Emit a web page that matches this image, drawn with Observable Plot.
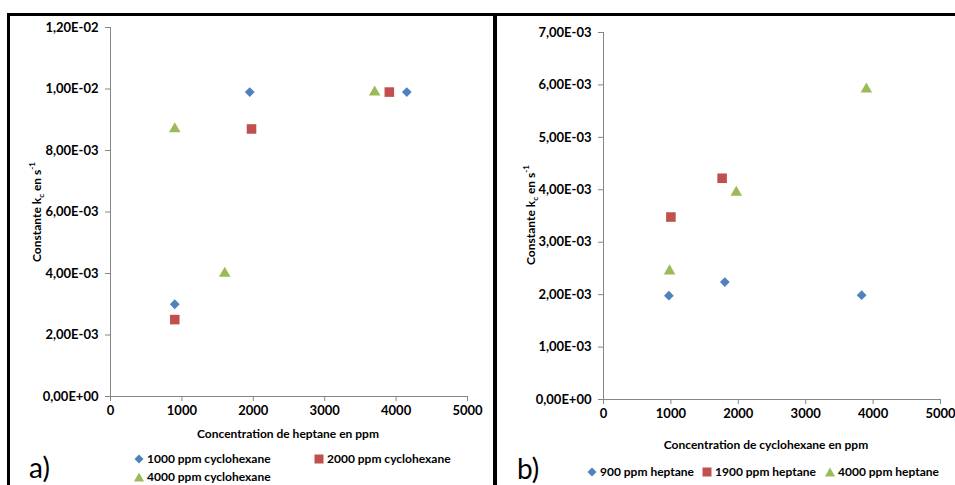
<!DOCTYPE html>
<html>
<head>
<meta charset="utf-8">
<script src="https://cdn.jsdelivr.net/npm/d3@7"></script>
<script src="https://cdn.jsdelivr.net/npm/@observablehq/plot@0.6"></script>
<style>
  html, body { margin: 0; padding: 0; background: white; }
  #root { position: relative; width: 955px; height: 485px; overflow: hidden; background: white;
          font-family: Lato, "Open Sans", sans-serif; color: black; }
  .line { position: absolute; background: black; z-index: 5; }
  .t { position: absolute; font-weight: bold; font-size: 12px; white-space: nowrap; line-height: 1; }
  .ctr { transform: translate(-50%, -50%); }
  .ylab { transform: translate(-50%, -50%) rotate(-90deg); }
  .big { position: absolute; font-size: 28px; font-weight: normal; line-height: 1; }
  .leg { position: absolute; font-weight: bold; font-size: 12px; white-space: nowrap; line-height: 1;
         display: flex; align-items: center; transform: translateY(-50%); }
  .leg svg { margin-right: 3px; }
  sub, sup { font-size: 8px; }
  sub { vertical-align: -3px; }
  sup { vertical-align: 6px; }
</style>
</head>
<body>
<div id="root"></div>
<script>
// ---------- Data ----------
const xTicks = [0, 1000, 2000, 3000, 4000, 5000];
const yTicksA = [0, 0.002, 0.004, 0.006, 0.008, 0.010, 0.012];
const yTicksB = [0, 0.001, 0.002, 0.003, 0.004, 0.005, 0.006, 0.007];

// Panel a) : x = heptane (ppm), series = cyclohexane level
const seriesA = ["1000 ppm cyclohexane", "2000 ppm cyclohexane", "4000 ppm cyclohexane"];
const a1000x = [900, 1950, 4150];
const a1000y = [0.0030, 0.0099, 0.0099];
const a2000x = [900, 1975, 3905];
const a2000y = [0.0025, 0.0087, 0.0099];
const a4000x = [900, 1600, 3700];
const a4000y = [0.0087, 0.0040, 0.0099];

// Panel b) : x = cyclohexane (ppm), series = heptane level
const seriesB = ["900 ppm heptane", "1900 ppm heptane", "4000 ppm heptane"];
const b900x = [970, 1800, 3830];
const b900y = [0.00198, 0.00224, 0.00199];
const b1900x = [1000, 1760];
const b1900y = [0.00348, 0.00422];
const b4000x = [980, 1970, 3900];
const b4000y = [0.00245, 0.00395, 0.00592];

const colors = ["#4F81BD", "#C0504D", "#9BBB59"];
const symbols = ["diamond2", "square", "triangle"];
const radii = [4.4, 5.4, 4.3];

// ---------- Helpers ----------
const zip = (xs, ys) => xs.map((x, i) => ({x, y: ys[i]}));
const fmt = d => {
  const [m, e] = d.toExponential(2).split("e");
  const n = +e;
  return m.replace(".", ",") + "E" + (n < 0 ? "-" : "+") + String(Math.abs(n)).padStart(2, "0");
};

function makePlot({width, height, mt, mr, mb, ml, ymax, yTicks, series}) {
  return Plot.plot({
    width, height, marginTop: mt, marginRight: mr, marginBottom: mb, marginLeft: ml,
    style: {fontFamily: "Lato, 'Open Sans', sans-serif", fontWeight: "bold", fontSize: "13px",
            color: "black", background: "transparent", overflow: "visible", maxWidth: "none"},
    x: {domain: [0, 5000]},
    y: {domain: [0, ymax]},
    marks: [
      Plot.ruleX([0], {stroke: "#868686", strokeWidth: 1}),
      Plot.ruleY([0], {stroke: "#868686", strokeWidth: 1}),
      Plot.axisX({ticks: xTicks, tickSize: 5, tickPadding: 4, stroke: "#868686", fill: "black",
                  label: null, tickFormat: d => String(d)}),
      Plot.axisY({ticks: yTicks, tickSize: 5, tickPadding: 7, stroke: "#868686", fill: "black",
                  label: null, tickFormat: fmt}),
      ...series.map((s, i) => Plot.dot(s, {x: "x", y: "y", symbol: () => symbols[i], r: radii[i],
                  fill: colors[i], stroke: "none"}))
    ]
  });
}

const root = document.getElementById("root");

// Panel a
const plotA = makePlot({width: 493, height: 430, mt: 27, mr: 26, mb: 34, ml: 110, ymax: 0.012, yTicks: yTicksA,
  series: [zip(a1000x, a1000y), zip(a2000x, a2000y), zip(a4000x, a4000y)]});
plotA.style.position = "absolute"; plotA.style.left = "0px"; plotA.style.top = "0px";
root.appendChild(plotA);

// Panel b
const plotB = makePlot({width: 462, height: 440, mt: 32, mr: 15, mb: 41, ml: 110, ymax: 0.007, yTicks: yTicksB,
  series: [zip(b900x, b900y), zip(b1900x, b1900y), zip(b4000x, b4000y)]});
plotB.style.position = "absolute"; plotB.style.left = "493px"; plotB.style.top = "0px";
root.appendChild(plotB);

// Borders
function line(l, t, w, h) { const d = document.createElement("div"); d.className = "line";
  Object.assign(d.style, {left: l + "px", top: t + "px", width: w + "px", height: h + "px"}); root.appendChild(d); }
line(7, 13, 948, 3);
line(7, 13, 3, 472);
line(493, 13, 4, 472);

// Texts
function text(cls, html, l, t) { const d = document.createElement("div"); d.className = cls; d.innerHTML = html;
  d.style.left = l + "px"; d.style.top = t + "px"; root.appendChild(d); return d; }
const ylabel = "Constante k<sub>c</sub> en s<sup>-1</sup>";
text("t ylab", ylabel, 36, 212);
text("t ylab", ylabel, 530, 215);
text("t ctr", "Concentration de heptane en ppm", 288, 434);
text("t ctr", "Concentration de cyclohexane en ppm", 766, 445);
text("big", "a)", 29, 453);
text("big", "b)", 517, 454);

// Legend
function symSvg(i) {
  const c = colors[i];
  let shape;
  if (i === 0) shape = `<polygon points="5,0.5 9.5,5 5,9.5 0.5,5" fill="${c}"/>`;
  else if (i === 1) shape = `<rect x="0.5" y="0.5" width="9" height="9" fill="${c}"/>`;
  else shape = `<polygon points="5,0.5 10,9.5 0,9.5" fill="${c}"/>`;
  return `<svg width="10" height="10" viewBox="0 0 10 10">${shape}</svg>`;
}
function legend(i, label, l, t) { text("leg", symSvg(i) + label, l, t); }
legend(0, seriesA[0], 134, 459);
legend(1, seriesA[1], 314, 459);
legend(2, seriesA[2], 134, 477);
legend(0, seriesB[0], 587, 472);
legend(1, seriesB[1], 702, 472);
legend(2, seriesB[2], 825, 472);
</script>
</body>
</html>
